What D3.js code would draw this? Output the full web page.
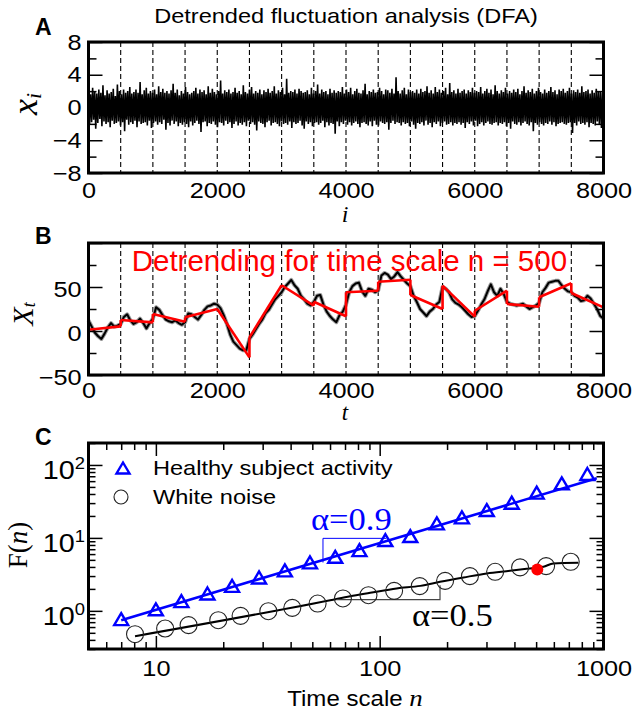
<!DOCTYPE html>
<html>
<head>
<meta charset="utf-8">
<script src="https://cdn.jsdelivr.net/npm/d3@7"></script>
<style>
  body { margin: 0; background: #fff; }
  svg { display: block; }
  text { font-family: "Liberation Sans", Arial, sans-serif; }
  .serif { font-family: "Liberation Serif", "Times New Roman", serif; }
</style>
</head>
<body>
<svg id="fig" width="634" height="715"></svg>
<script>
// ---- panel A : white noise x_i (read as the visible extremes, evenly spaced over i = 0..8000)
var noiseValues = [
  1.9,-2.1,1.6,-1.8,2.4,-1.5,2.0,-2.6,1.7,-1.9,2.2,-1.4,1.8,-2.3,2.7,-1.7,1.5,-2.0,2.1,-1.8,
  1.7,-2.4,1.9,-1.6,2.3,-2.0,1.4,-1.9,2.8,-1.7,2.0,-2.2,1.6,-1.8,2.2,-2.9,1.8,-1.5,2.0,-2.1,
  2.5,-1.8,1.7,-2.0,1.9,-1.6,2.2,-2.4,1.8,-1.7,3.1,-2.0,1.6,-1.9,2.1,-1.8,2.4,-2.2,1.7,-1.6,
  2.0,-2.5,1.8,-1.9,2.2,-1.7,1.6,-2.1,2.6,-1.8,1.9,-2.0,2.3,-1.5,1.8,-2.7,2.0,-1.9,1.7,-2.2,
  2.1,-1.6,2.9,-2.0,1.8,-1.7,2.2,-2.3,1.5,-1.9,2.0,-2.1,1.7,-1.8,2.5,-2.0,1.9,-2.4,1.6,-1.7,
  1.8,-2.2,2.0,-1.9,2.4,-1.6,1.7,-2.0,2.2,-3.0,1.9,-1.8,2.1,-1.7,1.6,-2.3,2.6,-1.9,1.8,-2.0,
  2.3,-1.7,1.9,-2.1,1.6,-2.4,2.0,-1.8,3.3,-1.9,1.7,-2.2,2.1,-1.6,1.9,-2.0,2.2,-1.8,1.7,-2.5,
  1.9,-2.0,2.4,-1.7,1.8,-2.2,2.0,-1.9,1.6,-2.1,2.7,-1.8,1.9,-2.3,1.7,-1.6,2.2,-2.0,2.5,-1.8,
  1.7,-2.1,2.0,-2.8,1.8,-1.7,2.2,-1.9,1.6,-2.0,2.1,-2.4,1.9,-1.8,2.3,-1.6,1.8,-2.2,2.0,-1.9,
  2.6,-1.8,1.7,-2.0,2.1,-2.3,1.9,-1.7,2.4,-2.0,1.6,-1.9,3.5,-2.1,1.8,-1.7,2.0,-2.5,1.9,-1.8,
  2.2,-2.0,1.7,-1.9,2.3,-1.6,2.0,-2.2,1.8,-2.6,1.9,-1.7,2.1,-2.0,1.6,-1.8,2.4,-2.3,1.7,-1.9,
  2.0,-1.8,2.8,-2.1,1.7,-1.9,2.2,-1.6,1.9,-2.4,2.0,-1.8,1.6,-2.2,2.3,-1.9,1.8,-2.0,2.1,-3.2,
  1.8,-1.7,2.0,-2.3,1.9,-1.8,2.5,-2.0,1.7,-1.6,2.2,-2.1,1.9,-1.8,2.4,-2.2,1.6,-1.9,2.0,-1.7,
  2.3,-2.0,1.8,-2.4,1.7,-1.9,2.1,-1.8,2.9,-2.0,1.6,-2.2,2.0,-1.7,1.9,-2.3,2.2,-1.6,1.8,-2.1,
  1.9,-2.2,2.4,-1.7,2.0,-1.9,1.6,-2.0,2.2,-1.8,2.1,-2.7,1.8,-1.9,2.3,-1.6,1.7,-2.0,3.7,-1.8,
  2.0,-1.9,1.7,-2.2,2.1,-1.8,2.4,-2.0,1.6,-1.9,2.2,-2.3,1.9,-1.7,2.0,-2.1,1.8,-2.6,2.2,-1.9,
  1.7,-2.0,2.3,-1.8,1.9,-2.2,2.0,-1.6,2.6,-2.1,1.8,-1.9,2.1,-2.4,1.7,-1.8,2.5,-2.0,1.9,-1.7,
  2.2,-2.3,1.8,-1.9,2.0,-1.7,2.4,-2.1,1.6,-2.0,3.0,-1.8,1.9,-2.2,2.1,-1.9,1.7,-2.0,2.3,-1.8,
  1.8,-2.1,2.0,-1.9,2.2,-2.5,1.7,-1.8,2.1,-2.0,1.9,-1.7,2.4,-2.2,1.8,-1.6,2.0,-2.3,1.9,-2.0,
  2.5,-1.8,1.7,-2.2,2.0,-1.9,2.3,-1.7,1.8,-2.0,2.2,-2.1,1.6,-1.9,2.7,-1.8,2.0,-2.2,1.7,-1.9,
  2.1,-2.0,1.9,-1.8,2.4,-2.3,1.7,-1.9,2.0,-2.6,1.8,-1.7,2.2,-2.0,1.9,-2.1,2.3,-1.8,1.6,-2.2,
  2.0,-1.9,2.6,-1.7,1.8,-2.0,2.1,-2.2,1.9,-1.8,2.3,-2.9,1.7,-1.9,2.0,-2.1,2.4,-1.8,1.9,-2.0,
  1.7,-2.2,2.2,-1.9,1.8,-2.0,2.0,-1.7,2.5,-2.1,1.9,-1.8,2.1,-2.3,1.6,-2.0,2.2,-1.9,2.0,-1.8,
  2.3,-2.0,1.8,-2.1,2.0,-1.9,2.4,-1.8,1.7,-3.1,2.1,-1.9,1.9,-2.2,2.2,-1.7,1.8,-2.0,2.6,-1.9,
  1.9,-2.1,2.0,-1.8,2.2,-2.4,1.7,-1.9,2.1,-2.0,1.8,-2.2,2.3,-1.7,1.9,-2.0,2.0,-2.5,1.8,-2.2
];

// ---- panel B : profile X_t every 50 steps, and the linear fit in each window of n = 500
var profileStep = 50;
var profileValues = [
  12,5,-2,-6,-9,-3,4,9,5,6, 8,16,19,12,8,10,14,9,3,9,
  14,27,24,18,13,11,10,12,9,7, 10,20,19,16,13,18,24,28,29,31,
  30,26,18,8,-4,-12,-16,-20,-22,-22, -9,-4,2,8,13,20,24,30,36,40,
  44,50,54,58,52,48,40,36,31,29, 33,40,41,30,22,17,13,10,18,22,
  30,44,51,54,55,45,40,48,47,44, 46,63,66,64,59,62,67,62,58,54,
  51,40,33,25,21,17,22,25,30,33, 50,48,44,36,32,30,27,23,19,16,
  17,23,30,36,45,53,44,40,48,42, 33,31,30,29,30,31,28,25,27,29,
  32,44,49,55,56,57,57,52,48,45, 44,40,38,34,35,40,37,31,25,17,
  14
];
var windowSize = 500;
var fitStart = [1.5, 12.5, 19.3, 15.5, 25, -7.2, 52, 33.3, 44, 56, 40.9, 51.5, 23, 30.7, 38.3, 43.2];
var fitEnd   = [5.3, 9.8, 10.6, 25, -30, 52, 28.8, 16.7, 45.8, 58.3, 25, 16.3, 45.8, 27.6, 54.2, 26.9];

// ---- panel C : F(n) against time scale n
var healthyN = [7, 10, 13, 17, 21.9, 28.9, 37.7, 48.8, 63.3, 81.2, 106, 137, 180, 233, 301, 389, 503, 651, 847];
var healthyF = [0.77, 1.05, 1.36, 1.73, 2.2, 2.87, 3.59, 4.62, 5.51, 6.81, 9.34, 10.6, 15.8, 19.1, 24.1, 30.4, 41.7, 56.1, 75.2];
var whiteN = [8.07, 11, 14, 19, 23.9, 31.8, 40.7, 52.8, 68.5, 89.1, 116, 151, 196, 253, 328, 424, 554, 714];
var whiteF = [0.479, 0.573, 0.637, 0.745, 0.854, 0.99, 1.1, 1.26, 1.48, 1.64, 1.88, 2.18, 2.58, 2.99, 3.43, 3.94, 4.11, 4.71];
var healthyFitN = [7, 933];
var healthyFitF = [0.745, 65.7];
var whiteFitN = [8.07, 60.1, 73.8, 90.7, 119, 152, 186, 237, 301, 382, 470, 539, 597, 772];
var whiteFitF = [0.45, 1.4, 1.59, 1.77, 2.03, 2.2, 2.5, 2.87, 3.26, 3.54, 3.82, 4.02, 4.47, 4.56];
var markedN = [506];
var markedF = [3.7];
// slope triangles (corner points, data units)
var healthySlopeN = [55.8, 55.8, 107];
var healthySlopeF = [4.6, 9.86, 9.86];
var whiteSlopeN = [64, 186, 186];
var whiteSlopeF = [1.43, 1.43, 2.25];

var SX = 1.15;          // the figure's text is slightly wide
var sans = '"Liberation Sans", Arial, sans-serif';
var svg = d3.select("#fig");

var boxA = {x0: 88.5, x1: 603.5, y0: 42, y1: 173};
var boxB = {x0: 88.5, x1: 603.5, y0: 243, y1: 375};
var boxC = {x0: 88.5, x1: 603.5, y0: 443, y1: 649};

function wideText(g, x, y, txt, size, anchor) {
  return g.append("text")
    .attr("transform", `translate(${x},${y}) scale(${SX},1)`)
    .attr("text-anchor", anchor || "start")
    .style("font-size", size + "px")
    .text(txt);
}

// inward ticks on one side of a frame
function addTicks(g, scale, box, side, vals, len) {
  let ax, tr;
  if (side == "left")   { ax = d3.axisRight(scale);  tr = `translate(${box.x0},0)`; }
  if (side == "right")  { ax = d3.axisLeft(scale);   tr = `translate(${box.x1},0)`; }
  if (side == "top")    { ax = d3.axisBottom(scale); tr = `translate(0,${box.y0})`; }
  if (side == "bottom") { ax = d3.axisTop(scale);    tr = `translate(0,${box.y1})`; }
  let a = g.append("g").attr("transform", tr)
    .call(ax.tickValues(vals).tickSize(len).tickFormat(""));
  a.select(".domain").remove();
  a.selectAll("line").attr("stroke", "#000").attr("stroke-width", 1.5);
}

function addLabels(g, axis, tr, size) {
  let a = g.append("g").attr("transform", tr).call(axis.tickSize(0));
  a.select(".domain").remove();
  a.selectAll("text")
    .style("font-size", size + "px").style("font-family", sans)
    .attr("fill", "#000")
    .attr("transform", `scale(${SX},1)`);
  return a;
}

function frame(g, box) {
  g.append("rect")
    .attr("x", box.x0).attr("y", box.y0)
    .attr("width", box.x1 - box.x0).attr("height", box.y1 - box.y0)
    .attr("fill", "none").attr("stroke", "#000").attr("stroke-width", 3);
}

function dashedWindows(g, x, box) {
  g.selectAll(null).data(d3.range(windowSize, 8000, windowSize)).enter()
    .append("line")
    .attr("x1", d => x(d)).attr("x2", d => x(d))
    .attr("y1", box.y0).attr("y2", box.y1)
    .attr("stroke", "#000").attr("stroke-width", 1.1)
    .attr("stroke-dasharray", "5,3");
}

var intFmt = d3.format("d");

// title
wideText(svg, 346, 23, "Detrended fluctuation analysis (DFA)", 20.5, "middle");

// ================= panel A =================
let gA = svg.append("g");
let xA = d3.scaleLinear().domain([0, 8000]).range([boxA.x0, boxA.x1]);
let yA = d3.scaleLinear().domain([-8, 8]).range([boxA.y1, boxA.y0]);

dashedWindows(gA, xA, boxA);

let noiseStep = 8000 / (noiseValues.length - 1);
gA.append("path")
  .datum(noiseValues)
  .attr("fill", "none").attr("stroke", "#000").attr("stroke-width", 1.6)
  .attr("stroke-linejoin", "bevel")
  .attr("d", d3.line().x((d, k) => xA(k * noiseStep)).y(d => yA(d)));

addTicks(gA, yA, boxA, "left", [-8, -4, 0, 4, 8], 14);
addTicks(gA, yA, boxA, "left", [-6, -2, 2, 6], 8);
addTicks(gA, yA, boxA, "right", [-8, -4, 0, 4, 8], 14);
addTicks(gA, yA, boxA, "right", [-6, -2, 2, 6], 8);
addLabels(gA, d3.axisLeft(yA).tickValues([-8, -4, 0, 4, 8]).tickPadding(6), `translate(${boxA.x0},0)`, 22);
addLabels(gA, d3.axisBottom(xA).tickValues([0, 2000, 4000, 6000, 8000]).tickFormat(intFmt).tickPadding(9), `translate(0,${boxA.y1})`, 22);
frame(gA, boxA);

gA.append("text").attr("x", 35).attr("y", 35)
  .attr("font-weight", "bold").style("font-size", "23px").text("A");
let labA = gA.append("text").attr("class", "serif")
  .attr("transform", "translate(37,104) rotate(-90)")
  .attr("text-anchor", "middle");
labA.append("tspan").style("font-style", "italic").style("font-size", "36px").text("x");
labA.append("tspan").style("font-style", "italic").style("font-size", "22px").attr("dy", 4).text("i");
gA.append("text").attr("class", "serif")
  .attr("x", 345).attr("y", 222).attr("text-anchor", "middle")
  .style("font-style", "italic").style("font-size", "24px").text("i");

// ================= panel B =================
let gB = svg.append("g");
let xB = d3.scaleLinear().domain([0, 8000]).range([boxB.x0, boxB.x1]);
let yB = d3.scaleLinear().domain([-50, 100]).range([boxB.y1, boxB.y0]);

dashedWindows(gB, xB, boxB);

let profileLine = d3.line().x((d, k) => xB(k * profileStep)).y(d => yB(d));
// grey halo of the fine-grained profile, then the line itself
gB.append("path").datum(profileValues)
  .attr("fill", "none").attr("stroke", "#999").attr("stroke-width", 4)
  .attr("stroke-linejoin", "round").attr("d", profileLine);
gB.append("path").datum(profileValues)
  .attr("fill", "none").attr("stroke", "#000").attr("stroke-width", 2)
  .attr("stroke-linejoin", "round").attr("d", profileLine);

gB.selectAll(".fit").data(fitStart).enter()
  .append("line").attr("class", "fit")
  .attr("x1", (d, k) => xB(k * windowSize))
  .attr("x2", (d, k) => xB((k + 1) * windowSize))
  .attr("y1", d => yB(d))
  .attr("y2", (d, k) => yB(fitEnd[k]))
  .attr("stroke", "#ff0000").attr("stroke-width", 2.6);
// joints between consecutive fit segments
gB.selectAll(".jump").data(fitStart.slice(1)).enter()
  .append("line").attr("class", "jump")
  .attr("x1", (d, k) => xB((k + 1) * windowSize))
  .attr("x2", (d, k) => xB((k + 1) * windowSize))
  .attr("y1", (d, k) => yB(fitEnd[k]))
  .attr("y2", d => yB(d))
  .attr("stroke", "#ff0000").attr("stroke-width", 2.6);

addTicks(gB, yB, boxB, "left", [-50, 0, 50, 100], 14);
addTicks(gB, yB, boxB, "left", [-25, 25, 75], 8);
addTicks(gB, yB, boxB, "right", [-50, 0, 50, 100], 14);
addTicks(gB, yB, boxB, "right", [-25, 25, 75], 8);
addLabels(gB, d3.axisLeft(yB).tickValues([-50, 0, 50]).tickPadding(6), `translate(${boxB.x0},0)`, 22)
  .selectAll("text").attr("dy", "0.42em");
addLabels(gB, d3.axisBottom(xB).tickValues([0, 2000, 4000, 6000, 8000]).tickFormat(intFmt).tickPadding(7), `translate(0,${boxB.y1})`, 22);
frame(gB, boxB);

gB.append("text").attr("x", 131.7).attr("y", 271)
  .attr("fill", "#ff0000").style("font-size", "29.5px")
  .text("Detrending for time scale n = 500");

gB.append("text").attr("x", 35).attr("y", 244)
  .attr("font-weight", "bold").style("font-size", "23px").text("B");
let labB = gB.append("text").attr("class", "serif")
  .attr("transform", "translate(33,314) rotate(-90)")
  .attr("text-anchor", "middle");
labB.append("tspan").style("font-style", "italic").style("font-size", "30px").text("X");
labB.append("tspan").style("font-style", "italic").style("font-size", "18px").attr("dy", 2).text("t");
gB.append("text").attr("class", "serif")
  .attr("x", 345).attr("y", 420).attr("text-anchor", "middle")
  .style("font-style", "italic").style("font-size", "23px").text("t");

// ================= panel C =================
let gC = svg.append("g");
let xC = d3.scaleLog().domain([5, 1000]).range([boxC.x0, boxC.x1]);
let yC = d3.scaleLog().domain([0.3, 200]).range([boxC.y1, boxC.y0]);

let xMajor = [10, 100, 1000];
let xMinor = [6, 7, 8, 9].concat(d3.range(20, 100, 10), d3.range(200, 1000, 100));
let yMajor = [1, 10, 100];
let yMinor = [0.3, 0.4, 0.5, 0.6, 0.7, 0.8, 0.9].concat(d3.range(2, 10), d3.range(20, 100, 10), [200]);

addTicks(gC, xC, boxC, "bottom", xMajor, 13);
addTicks(gC, xC, boxC, "bottom", xMinor, 7);
addTicks(gC, xC, boxC, "top", xMajor, 13);
addTicks(gC, xC, boxC, "top", xMinor, 7);
addTicks(gC, yC, boxC, "left", yMajor, 14);
addTicks(gC, yC, boxC, "left", yMinor, 7);
addTicks(gC, yC, boxC, "right", yMajor, 14);
addTicks(gC, yC, boxC, "right", yMinor, 7);

addLabels(gC, d3.axisBottom(xC).tickValues(xMajor).tickFormat(intFmt).tickPadding(11), `translate(0,${boxC.y1})`, 22);
let yLab = addLabels(gC, d3.axisLeft(yC).tickValues(yMajor).tickFormat("").tickPadding(3), `translate(${boxC.x0},0)`, 25);
yLab.selectAll("text").attr("dy", "0.55em").each(function(d) {
  let t = d3.select(this);
  t.append("tspan").text("10");
  t.append("tspan").attr("dy", "-0.62em").style("font-size", "16px").text(Math.round(Math.log10(d)));
});

// fit lines
gC.append("path").datum(d3.zip(healthyFitN, healthyFitF))
  .attr("fill", "none").attr("stroke", "#0000ff").attr("stroke-width", 2.6)
  .attr("d", d3.line().x(d => xC(d[0])).y(d => yC(d[1])));
gC.append("path").datum(d3.zip(whiteFitN, whiteFitF))
  .attr("fill", "none").attr("stroke", "#000").attr("stroke-width", 2)
  .attr("d", d3.line().curve(d3.curveMonotoneX).x(d => xC(d[0])).y(d => yC(d[1])));

// slope triangles
gC.append("path").datum(d3.zip(healthySlopeN, healthySlopeF))
  .attr("fill", "none").attr("stroke", "#0000ff").attr("stroke-width", 1)
  .attr("d", d3.line().x(d => xC(d[0])).y(d => yC(d[1])));
gC.append("path").datum(d3.zip(whiteSlopeN, whiteSlopeF))
  .attr("fill", "none").attr("stroke", "#444").attr("stroke-width", 1.2)
  .attr("d", d3.line().x(d => xC(d[0])).y(d => yC(d[1])));

function triPath(w, h) { return `M0,${-h/2}L${w/2},${h/2}L${-w/2},${h/2}Z`; }

gC.selectAll(".tri").data(d3.zip(healthyN, healthyF)).enter()
  .append("path").attr("class", "tri")
  .attr("d", triPath(14, 12))
  .attr("transform", d => `translate(${xC(d[0])},${yC(d[1])})`)
  .attr("fill", "none").attr("stroke", "#0000ff").attr("stroke-width", 2.4)
  .attr("stroke-linejoin", "miter");

gC.selectAll(".circ").data(d3.zip(whiteN, whiteF)).enter()
  .append("circle").attr("class", "circ")
  .attr("cx", d => xC(d[0])).attr("cy", d => yC(d[1])).attr("r", 8.5)
  .attr("fill", "none").attr("stroke", "#222").attr("stroke-width", 1.1);

gC.selectAll(".mark").data(d3.zip(markedN, markedF)).enter()
  .append("circle").attr("class", "mark")
  .attr("cx", d => xC(d[0])).attr("cy", d => yC(d[1])).attr("r", 6)
  .attr("fill", "#ff0000");

// legend
gC.append("path").attr("d", triPath(13, 11)).attr("transform", "translate(123,468)")
  .attr("fill", "none").attr("stroke", "#0000ff").attr("stroke-width", 2.4);
wideText(gC, 153, 475, "Healthy subject activity", 20.5);
gC.append("circle").attr("cx", 121).attr("cy", 497).attr("r", 7)
  .attr("fill", "none").attr("stroke", "#222").attr("stroke-width", 1.1);
wideText(gC, 153, 504, "White noise", 20.5);

// slope labels
gC.append("text").attr("class", "serif")
  .attr("transform", `translate(311,530) scale(1.08,1)`)
  .attr("fill", "#0000ff").style("font-size", "32px").text("\u03b1=0.9");
gC.append("text").attr("class", "serif")
  .attr("transform", `translate(412,626) scale(1.08,1)`)
  .attr("fill", "#000").style("font-size", "32px").text("\u03b1=0.5");

frame(gC, boxC);

gC.append("text").attr("x", 35).attr("y", 445)
  .attr("font-weight", "bold").style("font-size", "23px").text("C");

let labC = gC.append("text").attr("class", "serif")
  .attr("transform", "translate(27,545) rotate(-90)")
  .attr("text-anchor", "middle").style("font-size", "27px");
labC.append("tspan").text("F(");
labC.append("tspan").style("font-style", "italic").text("n");
labC.append("tspan").text(")");

let xTitle = gC.append("text")
  .attr("transform", `translate(355,706) scale(1.12,1)`)
  .attr("text-anchor", "middle").style("font-size", "21.5px");
xTitle.append("tspan").text("Time scale ");
xTitle.append("tspan").attr("class", "serif").style("font-style", "italic").style("font-size", "24px").text("n");
</script>
</body>
</html>
